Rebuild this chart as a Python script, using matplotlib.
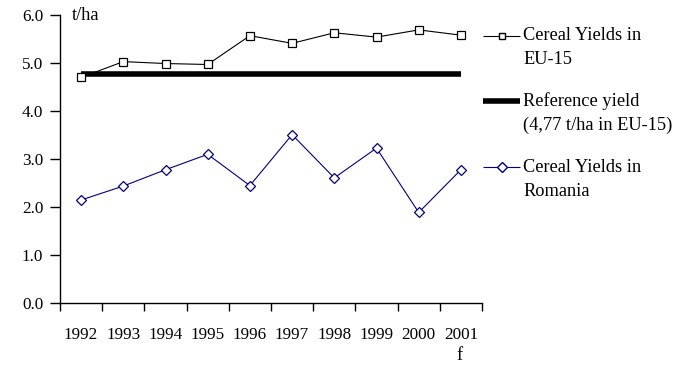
import matplotlib
matplotlib.use("Agg")
import matplotlib.pyplot as plt
from matplotlib.lines import Line2D
import numpy as np

years = ["1992", "1993", "1994", "1995", "1996", "1997", "1998", "1999", "2000", "2001"]
eu15 = [4.70, 5.03, 4.99, 4.97, 5.57, 5.41, 5.63, 5.54, 5.69, 5.58]
romania = [2.15, 2.44, 2.78, 3.10, 2.45, 3.51, 2.61, 3.23, 1.89, 2.78]
reference = 4.77
yticks = [0.0, 1.0, 2.0, 3.0, 4.0, 5.0, 6.0]

plt.rcParams['font.family'] = ['Liberation Serif', 'DejaVu Serif']
FS = 12.3
LFS = 13.2

fig = plt.figure(figsize=(6.97, 3.75), dpi=100)
W, H = 697, 375
ax = fig.add_axes([60 / W, 1 - 303.3 / H, (482 - 60) / W, (303.3 - 15) / H])

x = np.arange(len(years))
ax.plot(x, eu15, color='black', lw=0.8, marker='s', ms=6, mfc='white', mec='black', mew=0.9, zorder=3)
ax.plot([x[0], x[-1]], [reference, reference], color='black', lw=4, solid_capstyle='butt', zorder=2)
ax.plot(x, romania, color='#000080', lw=0.8, marker='D', ms=5.5, mfc='white', mec='#000080', mew=0.9, zorder=3)

ax.set_xlim(-0.5, len(years) - 0.5)
ax.set_ylim(0, 6)
ax.set_yticks(yticks)
ax.set_yticklabels([f"{v:.1f}" for v in yticks], fontsize=FS)
ax.set_xticks(np.arange(len(years) + 1) - 0.5)
ax.set_xticklabels([])
ax.set_xticks(x, minor=True)
ax.set_xticklabels(years, minor=True, fontsize=FS)
ax.tick_params(axis='x', which='minor', length=0, pad=17)
ax.tick_params(axis='x', which='major', direction='out', length=6, width=1)
ax.tick_params(axis='y', direction='out', length=7, width=1, pad=5)
for s in ['top', 'right']:
    ax.spines[s].set_visible(False)
for s in ['left', 'bottom']:
    ax.spines[s].set_linewidth(1)

fig.text(72 / W, 1 - 16 / H, "t/ha", fontsize=LFS, va='center', ha='left')
fig.text(460 / W, 1 - 355 / H, "f", fontsize=LFS, ha='center', va='center')

# legend (manual)
def fx(px):
    return px / W
def fy(py):
    return 1 - py / H

entries = [
    (36, ["Cereal Yields in", "EU-15"], dict(color='black', lw=0.8, marker='s', ms=5, mfc='white', mec='black')),
    (101, ["Reference yield", "(4,77 t/ha in EU-15)"], dict(color='black', lw=4)),
    (167, ["Cereal Yields in", "Romania"], dict(color='#000080', lw=0.8, marker='D', ms=5, mfc='white', mec='#000080')),
]
for py, lines, style in entries:
    fig.add_artist(Line2D([fx(483), fx(501.5), fx(520)], [fy(py)] * 3, transform=fig.transFigure,
                          markevery=[1], solid_capstyle='butt', **style))
    for i, t in enumerate(lines):
        fig.text(fx(523), fy(py + i * 24), t, fontsize=LFS, ha='left', va='center')

fig.savefig("out.png", dpi=100)
